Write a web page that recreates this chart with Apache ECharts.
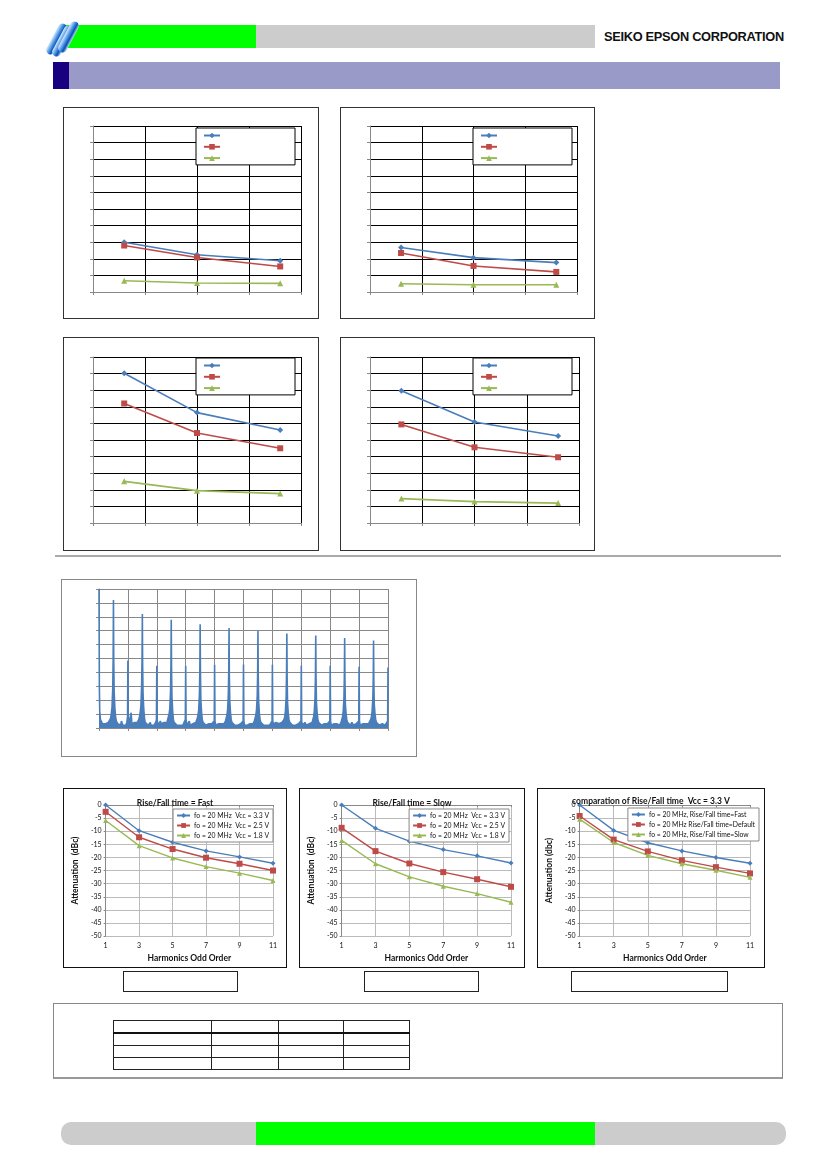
<!DOCTYPE html>
<html>
<head>
<meta charset="utf-8">
<script src="https://cdn.jsdelivr.net/npm/echarts@6/dist/echarts.min.js"></script>
<style>
	body { margin: 0; background: #fff; }
	#page { position: relative; width: 827px; height: 1169px; overflow: hidden; background: #fff; }
	.abs { position: absolute; }
	.frame { position: absolute; border: 1px solid #333; box-sizing: border-box; background: #fff; }
	.chart { position: absolute; }
	.cap { position: absolute; border: 1px solid #222; box-sizing: border-box; }
	#company { left: 604px; top: 29px; font: bold 12.8px "Liberation Sans", Arial, sans-serif; letter-spacing: -0.3px; color: #111; }
	.blade { position: absolute; width: 9px; height: 34px; border-radius: 5px;
		background: linear-gradient(90deg, #d8ecff 0%, #3d8be0 45%, #0d4fb0 70%, #bcdcff 100%);
		transform: rotate(28deg); }
	table.spec { position: absolute; left: 113px; top: 1020px; border-collapse: collapse; }
	table.spec td { border: 1px solid #222; padding: 0; height: 11px; }
	table.spec tr.head td { border-bottom: 2px solid #111; }
</style>
</head>
<body>
<div id="page">
	<!-- header -->
	<div class="abs" style="left:66px;top:25px;width:190px;height:23px;background:#00ff00;"></div>
	<div class="abs" style="left:256px;top:25px;width:339px;height:23px;background:#cccccc;"></div>
	<div class="blade" style="left:52px;top:22px;"></div>
	<div class="blade" style="left:58px;top:24px;"></div>
	<div class="blade" style="left:64px;top:20px;"></div>
	<div class="abs" id="company">SEIKO EPSON CORPORATION</div>
	<div class="abs" style="left:53px;top:62px;width:727px;height:27px;background:#9a9ac9;"></div>
	<div class="abs" style="left:53px;top:62px;width:16px;height:27px;background:#180080;"></div>

	<!-- four small charts -->
	<div class="frame" style="left:63px;top:107px;width:256px;height:212px;"></div>
	<div class="chart" id="c1" style="left:63px;top:107px;width:256px;height:212px;"></div>
	<div class="frame" style="left:340px;top:107px;width:255px;height:212px;"></div>
	<div class="chart" id="c2" style="left:340px;top:107px;width:255px;height:212px;"></div>
	<div class="frame" style="left:63px;top:337px;width:256px;height:214px;"></div>
	<div class="chart" id="c3" style="left:63px;top:337px;width:256px;height:214px;"></div>
	<div class="frame" style="left:340px;top:337px;width:255px;height:214px;"></div>
	<div class="chart" id="c4" style="left:340px;top:337px;width:255px;height:214px;"></div>

	<div class="abs" style="left:55px;top:555px;width:726px;height:2px;background:#aaa;"></div>

	<!-- spectrum -->
	<div class="frame" style="left:61px;top:579px;width:356px;height:178px;border-color:#888;"></div>
	<div class="chart" id="spec" style="left:61px;top:579px;width:356px;height:178px;"></div>

	<!-- harmonics charts -->
	<div class="frame" style="left:63px;top:788px;width:224px;height:180px;border:1.5px solid #111;"></div>
	<div class="chart" id="h1" style="left:63px;top:788px;width:224px;height:180px;"></div>
	<div class="frame" style="left:299px;top:788px;width:226px;height:180px;border:1.5px solid #111;"></div>
	<div class="chart" id="h2" style="left:299px;top:788px;width:226px;height:180px;"></div>
	<div class="frame" style="left:537px;top:788px;width:228px;height:180px;border:1.5px solid #111;"></div>
	<div class="chart" id="h3" style="left:537px;top:788px;width:228px;height:180px;"></div>
	<div class="cap" style="left:123px;top:971px;width:115px;height:21px;"></div>
	<div class="cap" style="left:364px;top:971px;width:115px;height:21px;"></div>
	<div class="cap" style="left:571px;top:971px;width:157px;height:21px;"></div>

	<!-- table block -->
	<div class="abs" style="left:53px;top:1003px;width:728px;height:73px;border:1px solid #888;border-bottom:2px solid #999;"></div>
	<table class="spec">
		<tr class="head"><td style="width:97px"></td><td style="width:66px"></td><td style="width:64px"></td><td style="width:65px"></td></tr>
		<tr><td></td><td></td><td></td><td></td></tr>
		<tr><td></td><td></td><td></td><td></td></tr>
		<tr><td></td><td></td><td></td><td></td></tr>
	</table>

	<!-- footer -->
	<div class="abs" style="left:61px;top:1122px;width:725px;height:23px;background:#cccccc;border-radius:10px;"></div>
	<div class="abs" style="left:256px;top:1122px;width:339px;height:23px;background:#00ff00;"></div>
</div>

<script>
	// x positions (Vcc) of the small charts
	var vccPoints = [1.8, 2.5, 3.3];

	var c1Blue = [3.0, 2.24, 1.88];
	var c1Red = [2.8, 2.08, 1.54];
	var c1Green = [0.68, 0.54, 0.52];

	var c2Blue = [2.68, 2.07, 1.77];
	var c2Red = [2.35, 1.57, 1.21];
	var c2Green = [0.5, 0.44, 0.44];

	var c3Blue = [9.02, 6.65, 5.6];
	var c3Red = [7.2, 5.42, 4.5];
	var c3Green = [2.51, 1.95, 1.77];

	var c4Blue = [7.97, 6.08, 5.24];
	var c4Red = [5.94, 4.56, 3.96];
	var c4Green = [1.47, 1.29, 1.2];

	// harmonics charts
	var harmOrder = ['1', '3', '5', '7', '9', '11'];
	var harmTicks = [0, -5, -10, -15, -20, -25, -30, -35, -40, -45, -50];

	var fastNames = ['fo = 20 MHz  Vcc = 3.3 V', 'fo = 20 MHz  Vcc = 2.5 V', 'fo = 20 MHz  Vcc = 1.8 V'];
	var fast33 = [0, -9.8, -14.2, -17.5, -19.8, -22.2];
	var fast25 = [-2.6, -12.3, -16.8, -20.1, -22.4, -25.0];
	var fast18 = [-5.9, -15.5, -20.2, -23.5, -26.0, -28.8];

	var slowNames = ['fo = 20 MHz  Vcc = 3.3 V', 'fo = 20 MHz  Vcc = 2.5 V', 'fo = 20 MHz  Vcc = 1.8 V'];
	var slow33 = [0, -8.9, -13.8, -17.0, -19.4, -22.1];
	var slow25 = [-8.7, -17.6, -22.3, -25.6, -28.3, -31.2];
	var slow18 = [-13.5, -22.4, -27.4, -31.0, -33.8, -37.1];

	var cmpNames = ['fo = 20 MHz, Rise/Fall time=Fast', 'fo = 20 MHz Rise/Fall time=Default', 'fo = 20 MHz, Rise/Fall time=Slow'];
	var cmpFast = [0, -9.7, -14.4, -17.5, -20.0, -22.2];
	var cmpDefault = [-4.2, -13.2, -17.7, -21.1, -23.7, -26.1];
	var cmpSlow = [-5.4, -14.3, -19.2, -22.4, -24.9, -27.6];

	// spectrum [freq, level]
	var spectrum = [
		[0, 100], [0.5, 30], [1, 12], [2, 6], [3, 5], [4, 5], [5, 3], [7, 2], [9, 3], [11, 2], [13, 4], [15, 5],
		[16, 7], [17, 10], [18, 15], [19, 28], [19.6, 50], [20, 92], [20.4, 50], [21, 26], [22, 14], [23, 8], [24, 5],
		[26, 3], [28, 4], [30, 2], [31, 5], [32, 5], [33, 2], [35, 3], [37, 2], [38.5, 4],
		[39.5, 8], [40, 48.5], [40.5, 8],
		[41.5, 3], [43, 2], [44.5, 11], [45.5, 3], [47, 3], [49, 4], [51, 3], [53, 4], [55, 6],
		[56, 8], [57, 11], [58, 16], [59, 30], [59.6, 50], [60, 82], [60.4, 45], [61, 24], [62, 13], [63, 7], [64, 4],
		[66, 3], [68, 2], [70, 3], [71, 4], [72, 2], [74, 3], [76, 2], [78.5, 4],
		[79.5, 6], [80, 44.7], [80.5, 6],
		[81.5, 2], [83, 3], [85, 5], [86, 3], [88, 2], [90, 4], [92, 3], [94, 4], [95, 6],
		[96, 8], [97, 10], [98, 14], [99, 26], [99.6, 45], [100, 77.8], [100.4, 42], [101, 22], [102, 12], [103, 6], [104, 4],
		[106, 3], [108, 2], [110, 3], [112, 2], [114, 3], [116, 2], [118.5, 3],
		[119.5, 6], [120, 44.7], [120.5, 6],
		[121.5, 2], [123, 3], [125, 5], [126, 2], [128, 3], [130, 3], [132, 2], [134, 4], [135, 5],
		[136, 7], [137, 9], [138, 13], [139, 24], [139.6, 42], [140, 74.6], [140.4, 40], [141, 20], [142, 11], [143, 6], [144, 4],
		[146, 3], [148, 2], [150, 3], [152, 3], [154, 2], [156, 3], [158.5, 3],
		[159.5, 5], [160, 45.5], [160.5, 5],
		[161.5, 2], [163, 3], [165, 3], [167, 2], [169, 3], [171, 3], [173, 3], [175, 5],
		[176, 7], [177, 9], [178, 13], [179, 24], [179.6, 42], [180, 72], [180.4, 38], [181, 20], [182, 11], [183, 6], [184, 4],
		[186, 3], [188, 2], [190, 3], [192, 2], [194, 3], [196, 3], [198.5, 3],
		[199.5, 5], [200, 45.7], [200.5, 5],
		[201.5, 2], [203, 3], [205, 2], [207, 3], [209, 3], [211, 2], [213, 3], [215, 5],
		[216, 6], [217, 9], [218, 13], [219, 23], [219.6, 40], [220, 70], [220.4, 38], [221, 19], [222, 10], [223, 6], [224, 4],
		[226, 3], [228, 2], [230, 3], [232, 2], [234, 3], [236, 2], [238.5, 3],
		[239.5, 5], [240, 45.5], [240.5, 5],
		[241.5, 3], [243, 2], [245, 4], [247, 5], [249, 3], [251, 3], [253, 4], [255, 5],
		[256, 6], [257, 8], [258, 12], [259, 22], [259.6, 40], [260, 68], [260.4, 36], [261, 18], [262, 10], [263, 6], [264, 4],
		[266, 3], [268, 2], [270, 3], [272, 2], [274, 3], [276, 3], [278.5, 3],
		[279.5, 5], [280, 45], [280.5, 5],
		[281.5, 2], [283, 3], [285, 4], [287, 2], [289, 3], [291, 3], [293, 2], [295, 4],
		[296, 6], [297, 8], [298, 12], [299, 22], [299.6, 38], [300, 66.5], [300.4, 36], [301, 18], [302, 10], [303, 6], [304, 4],
		[306, 3], [308, 2], [310, 3], [312, 3], [314, 2], [316, 3], [318.5, 3],
		[319.5, 5], [320, 44.7], [320.5, 5],
		[321.5, 2], [323, 3], [325, 3], [327, 2], [329, 3], [331, 3], [333, 2], [335, 4],
		[336, 6], [337, 8], [338, 12], [339, 21], [339.6, 37], [340, 64.8], [340.4, 35], [341, 17], [342, 10], [343, 6], [344, 4],
		[346, 3], [348, 2], [350, 4], [352, 2], [354, 3], [356, 3], [358.5, 3],
		[359.5, 5], [360, 44], [360.5, 5],
		[361.5, 2], [363, 3], [365, 3], [367, 2], [369, 3], [371, 3], [373, 3], [375, 4],
		[376, 6], [377, 8], [378, 12], [379, 21], [379.6, 36], [380, 63], [380.4, 34], [381, 17], [382, 10], [383, 6], [384, 4],
		[386, 3], [388, 2], [390, 3], [392, 3], [394, 3], [396, 2], [398, 3], [399.5, 5], [400, 43.5]
	];

	var blue = '#4a7ebb', red = '#be4b48', green = '#98b954';
	var charts = [];

	function pairs(xs, ys) {
		var out = [];
		for(var i = 0; i < xs.length; i++) {
			out.push([xs[i], ys[i]]);
		}
		return out;
	}

	/**小图**/
	function makeTop(id, b, r, g, grid) {
		var chart = echarts.init(document.getElementById(id));
		var axisBase = {
			type: 'value',
			axisLine: { lineStyle: { color: '#888' } },
			axisTick: { show: true, length: 3, lineStyle: { color: '#888' } },
			axisLabel: { show: false },
			splitLine: { lineStyle: { color: '#000', width: 1 } }
		};
		chart.setOption({
			animation: false,
			grid: grid,
			legend: {
				orient: 'vertical',
				left: 133,
				top: 21,
				itemWidth: 16,
				itemHeight: 7,
				itemGap: 5,
				padding: [4, 74, 4, 7],
				borderColor: '#000',
				borderWidth: 1,
				backgroundColor: '#fff',
				formatter: function() { return ''; },
				textStyle: { fontSize: 8 },
				data: ['a', 'b', 'c']
			},
			xAxis: Object.assign({}, axisBase, { min: 1.5, max: 3.5, interval: 0.5 }),
			yAxis: Object.assign({}, axisBase, { min: 0, max: 10, interval: 1 }),
			series: [
				{ name: 'a', type: 'line', data: pairs(vccPoints, b), color: blue, symbol: 'diamond', symbolSize: 6, lineStyle: { width: 1.6 } },
				{ name: 'b', type: 'line', data: pairs(vccPoints, r), color: red, symbol: 'rect', symbolSize: 6, lineStyle: { width: 1.6 } },
				{ name: 'c', type: 'line', data: pairs(vccPoints, g), color: green, symbol: 'triangle', symbolSize: 6, lineStyle: { width: 1.6 } }
			]
		});
		charts.push(chart);
	}

	makeTop('c1', c1Blue, c1Red, c1Green, { left: 30, right: 18, top: 19, bottom: 27 });
	makeTop('c2', c2Blue, c2Red, c2Green, { left: 30, right: 18, top: 19, bottom: 27 });
	makeTop('c3', c3Blue, c3Red, c3Green, { left: 30, right: 18, top: 20, bottom: 28 });
	makeTop('c4', c4Blue, c4Red, c4Green, { left: 30, right: 16, top: 20, bottom: 28 });

	/**频谱**/
	var specChart = echarts.init(document.getElementById('spec'));
	specChart.setOption({
		animation: false,
		grid: { left: 38, right: 29, top: 10, bottom: 29 },
		xAxis: {
			type: 'value', min: 0, max: 400, interval: 40,
			axisLine: { lineStyle: { color: '#888' } },
			axisTick: { length: 3, lineStyle: { color: '#888' } },
			axisLabel: { show: false },
			splitLine: { lineStyle: { color: '#888' } }
		},
		yAxis: {
			type: 'value', min: 0, max: 100, interval: 10,
			axisLine: { show: true, lineStyle: { color: '#888' } },
			axisTick: { show: true, length: 3, lineStyle: { color: '#888' } },
			axisLabel: { show: false },
			splitLine: { lineStyle: { color: '#888' } }
		},
		series: [{
			type: 'line',
			data: spectrum,
			symbol: 'none',
			color: blue,
			lineStyle: { width: 1.6 },
			areaStyle: { color: blue, opacity: 1 }
		}]
	});
	charts.push(specChart);

	/**谐波衰减**/
	function makeHarm(id, title, names, s1, s2, s3, yName, grid, legendRight, legendTop, titleTop) {
		var chart = echarts.init(document.getElementById(id));
		var font = 'Lato, "Open Sans", sans-serif';
		chart.setOption({
			animation: false,
			textStyle: { fontFamily: font },
			title: {
				text: title,
				left: 'center',
				top: titleTop,
				textStyle: { fontSize: 8.5, fontWeight: 'bold', color: '#111', fontFamily: font }
			},
			grid: grid,
			legend: {
				orient: 'vertical',
				right: legendRight,
				top: legendTop,
				itemWidth: 13,
				itemHeight: 6,
				itemGap: 3,
				padding: [3, 4, 3, 3],
				borderColor: '#888',
				borderWidth: 1,
				backgroundColor: '#fff',
				textStyle: { fontSize: 6.8, color: '#111', fontFamily: font, padding: [0, 0, 0, -1] },
				data: names
			},
			xAxis: {
				type: 'category',
				boundaryGap: false,
				data: harmOrder,
				name: 'Harmonics Odd Order',
				nameLocation: 'middle',
				nameGap: 16,
				nameTextStyle: { fontSize: 8.5, fontWeight: 'bold', color: '#111' },
				axisLine: { lineStyle: { color: '#888' } },
				axisTick: { show: true, alignWithLabel: true, length: 2, lineStyle: { color: '#888' } },
				axisLabel: { fontSize: 7, color: '#111', margin: 6 },
				splitLine: { show: true, lineStyle: { color: '#bbb' } }
			},
			yAxis: {
				type: 'value',
				min: harmTicks[harmTicks.length - 1],
				max: harmTicks[0],
				interval: 5,
				name: yName,
				nameLocation: 'middle',
				nameGap: 23,
				nameTextStyle: { fontSize: 8.5, fontWeight: 'bold', color: '#111' },
				axisLine: { show: true, lineStyle: { color: '#888' } },
				axisTick: { show: true, length: 2, lineStyle: { color: '#888' } },
				axisLabel: { fontSize: 7, color: '#111', margin: 4 },
				splitLine: { lineStyle: { color: '#bbb' } }
			},
			series: [
				{ name: names[0], type: 'line', data: s1, color: blue, symbol: 'diamond', symbolSize: 5, lineStyle: { width: 1.4 } },
				{ name: names[1], type: 'line', data: s2, color: red, symbol: 'rect', symbolSize: 6, lineStyle: { width: 1.4 } },
				{ name: names[2], type: 'line', data: s3, color: green, symbol: 'triangle', symbolSize: 5, lineStyle: { width: 1.4 } }
			]
		});
		charts.push(chart);
	}

	makeHarm('h1', 'Rise/Fall time = Fast', fastNames, fast33, fast25, fast18, 'Attenuation  (dBc)',
		{ left: 30, right: 14, top: 17, bottom: 23 }, 14, 21, 6);
	makeHarm('h2', 'Rise/Fall time = Slow', slowNames, slow33, slow25, slow18, 'Attenuation  (dBc)',
		{ left: 31, right: 14, top: 17, bottom: 23 }, 16, 21, 6);
	makeHarm('h3', 'comparation of Rise/Fall time  Vcc = 3.3 V', cmpNames, cmpFast, cmpDefault, cmpSlow, 'Attenuation (dbc)',
		{ left: 31, right: 15, top: 17, bottom: 23 }, 6, 20, 4);

	window.onresize = function() {
		for(var i = 0; i < charts.length; i++) {
			charts[i].resize();
		}
	}
</script>
</body>
</html>
